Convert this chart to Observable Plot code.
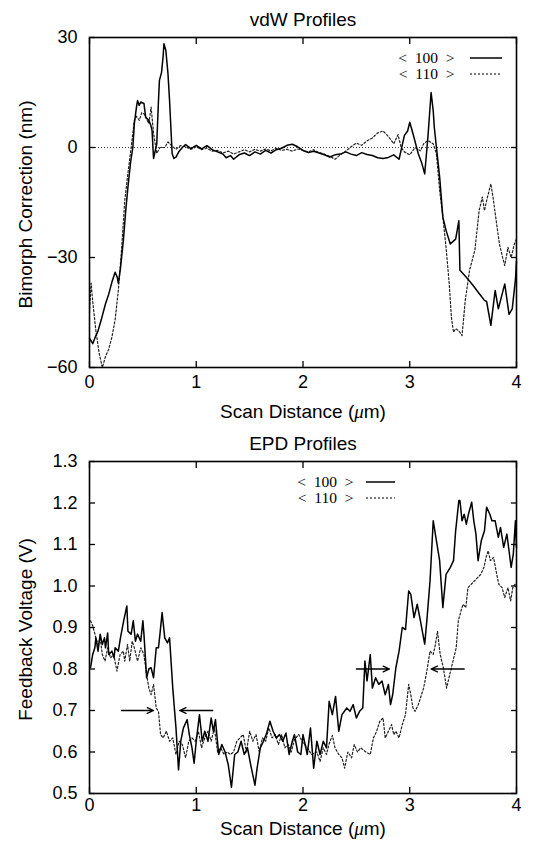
<!DOCTYPE html>
<html><head><meta charset="utf-8">
<script src="https://cdn.jsdelivr.net/npm/d3@7"></script>
<script src="https://cdn.jsdelivr.net/npm/@observablehq/plot@0.6"></script>
<style>
html,body{margin:0;padding:0;background:#fff;}
#c{width:546px;}
#c svg{display:block;}
</style></head><body><div id="c"></div>
<script>
// ---------- vdW Profiles (nm) ----------
const vdwX100 = [0.00,0.03,0.05,0.08,0.11,0.15,0.18,0.21,0.24,0.26,0.27,0.29,0.317,0.34,0.36,0.385,0.406,0.42,0.44,0.45,0.465,0.48,0.51,0.526,0.556,0.575,0.586,0.60,0.615,0.63,0.645,0.655,0.675,0.69,0.697,0.715,0.735,0.75,0.774,0.79,0.81,0.84,0.87,0.90,0.95,1.00,1.05,1.10,1.15,1.20,1.25,1.28,1.32,1.35,1.40,1.45,1.50,1.55,1.60,1.65,1.70,1.75,1.80,1.85,1.90,1.95,2.00,2.05,2.10,2.15,2.20,2.25,2.30,2.35,2.40,2.45,2.50,2.55,2.60,2.65,2.70,2.75,2.80,2.85,2.90,2.95,2.98,3.00,3.03,3.08,3.11,3.14,3.17,3.20,3.22,3.23,3.25,3.28,3.31,3.34,3.38,3.43,3.46,3.47,3.53,3.59,3.65,3.70,3.72,3.76,3.80,3.83,3.89,3.93,3.96,3.99,4.00];
const vdwY100 = [-52,-53.5,-52,-50,-47,-42.6,-40,-36.7,-34,-35.4,-37,-33,-25.4,-17,-10.8,-4,0,6.5,11,12.8,11.5,12.4,12,8.3,7.4,6,4.6,-3,-1,1,12,18.3,20.5,25,28.3,26.5,20.2,12.8,-1.6,-3,-2.6,-1,0,0.8,-0.3,0.6,-0.4,0.5,-0.6,-1.2,-1.8,-2.8,-2.2,-3.2,-2.0,-1.5,-2.2,-1.2,-1.8,-0.8,-1.5,-0.6,-0.2,0.6,0.9,0.2,-0.8,-1.4,-1.0,-1.5,-2.0,-2.6,-2.0,-1.8,-1.2,-1.8,-2.2,-1.4,-1.9,-2.2,-2.8,-3.0,-2.7,-2.0,-3.2,3.3,4.5,6.9,3.8,-1.7,-4,-7.2,2.8,15,10,5.5,0,-8,-19,-22.6,-26.3,-25,-20,-33.5,-35.4,-37.5,-39.8,-41.7,-42,-48.5,-39,-44,-37.2,-45.5,-44,-36,-31];
const vdwX110 = [0.00,0.015,0.03,0.06,0.09,0.12,0.15,0.18,0.21,0.24,0.27,0.30,0.33,0.36,0.39,0.42,0.44,0.466,0.49,0.51,0.53,0.556,0.577,0.60,0.63,0.66,0.705,0.735,0.77,0.81,0.85,0.90,0.95,1.00,1.05,1.10,1.15,1.20,1.25,1.30,1.35,1.40,1.45,1.50,1.55,1.60,1.65,1.70,1.75,1.80,1.85,1.90,1.95,2.00,2.05,2.10,2.15,2.20,2.25,2.30,2.35,2.40,2.45,2.50,2.55,2.60,2.65,2.70,2.75,2.80,2.85,2.89,2.92,2.95,3.00,3.05,3.10,3.13,3.17,3.22,3.25,3.28,3.31,3.34,3.37,3.39,3.41,3.43,3.46,3.49,3.52,3.56,3.61,3.65,3.68,3.70,3.72,3.76,3.78,3.81,3.84,3.87,3.89,3.92,3.95,3.98,4.00];
const vdwY110 = [-45,-37,-42,-50,-56,-60,-57,-55,-51.7,-47,-39,-28,-14.5,-7,0,7.4,8.5,7.4,9.5,9.2,8,6.5,11,3.8,-1.6,0,0,1.5,0.5,-0.5,0.5,0.2,-0.5,0.2,-0.6,-0.2,-1.0,-0.8,-1.5,-1.0,-1.8,-1.2,-0.6,-1.2,-0.5,-1.0,-0.4,-0.9,-0.2,-0.8,-0.5,-1.0,-0.4,-0.8,-1.2,-0.6,-1.4,-1.8,-2.4,-3.2,-2.0,-1.0,0.2,1.2,0.6,1.8,2.6,4.0,4.5,3.0,1.0,3.5,0,-1.2,-2.0,0,-0.9,1,1.9,1,-1.7,-11.7,-19,-27.2,-37.2,-46.3,-50.4,-49.4,-50,-51.3,-41.7,-33.5,-28,-17.2,-13.5,-17.2,-14.5,-9.9,-13.5,-20,-26.3,-30,-32.2,-27.2,-30,-26.3,-25];
const vdwTicksX = [0, 1, 2, 3, 4];
const vdwTicksY = [-60, -30, 0, 30];

// ---------- EPD Profiles (V) ----------
const epdX100 = [0.01,0.03,0.05,0.06,0.08,0.10,0.12,0.14,0.15,0.17,0.18,0.21,0.23,0.24,0.27,0.29,0.32,0.35,0.36,0.39,0.41,0.43,0.45,0.48,0.50,0.51,0.535,0.556,0.577,0.60,0.625,0.646,0.66,0.68,0.705,0.73,0.75,0.78,0.81,0.834,0.855,0.88,0.915,0.935,0.96,0.98,1.00,1.03,1.056,1.08,1.11,1.14,1.16,1.18,1.21,1.24,1.27,1.30,1.33,1.36,1.39,1.42,1.45,1.48,1.51,1.55,1.57,1.60,1.63,1.66,1.69,1.72,1.75,1.78,1.81,1.84,1.87,1.90,1.92,1.95,1.98,2.00,2.04,2.07,2.10,2.13,2.16,2.19,2.22,2.245,2.275,2.305,2.335,2.365,2.41,2.44,2.47,2.50,2.53,2.56,2.58,2.60,2.63,2.65,2.68,2.71,2.74,2.77,2.80,2.82,2.84,2.87,2.90,2.93,2.96,2.99,3.01,3.04,3.07,3.10,3.14,3.16,3.19,3.22,3.25,3.28,3.31,3.34,3.38,3.41,3.43,3.46,3.47,3.49,3.51,3.53,3.55,3.58,3.60,3.62,3.64,3.67,3.70,3.72,3.75,3.77,3.80,3.83,3.85,3.88,3.91,3.93,3.95,3.97,3.99,4.00];
const epdY100 = [0.803,0.835,0.851,0.875,0.843,0.884,0.859,0.875,0.851,0.887,0.835,0.843,0.827,0.851,0.843,0.875,0.916,0.952,0.891,0.884,0.916,0.867,0.884,0.867,0.916,0.884,0.779,0.80,0.803,0.779,0.851,0.851,0.884,0.936,0.875,0.863,0.875,0.754,0.658,0.557,0.626,0.658,0.678,0.642,0.61,0.573,0.626,0.69,0.626,0.65,0.626,0.682,0.65,0.678,0.594,0.618,0.60,0.569,0.515,0.594,0.60,0.626,0.594,0.61,0.569,0.52,0.561,0.61,0.626,0.646,0.674,0.65,0.634,0.642,0.626,0.646,0.594,0.626,0.642,0.60,0.594,0.642,0.594,0.658,0.561,0.626,0.594,0.626,0.61,0.722,0.69,0.734,0.65,0.69,0.706,0.698,0.714,0.682,0.698,0.706,0.819,0.771,0.835,0.754,0.779,0.763,0.771,0.738,0.763,0.714,0.738,0.803,0.843,0.90,0.895,0.988,0.98,0.924,0.956,0.916,0.86,0.916,1.012,1.157,1.109,1.061,0.948,1.028,1.045,1.061,1.133,1.206,1.206,1.157,1.173,1.149,1.173,1.202,1.157,1.125,1.061,1.109,1.133,1.19,1.173,1.157,1.157,1.117,1.141,1.093,1.125,1.085,1.045,1.077,1.157,1.093];
const epdX110 = [0.01,0.03,0.06,0.08,0.10,0.12,0.146,0.17,0.197,0.227,0.257,0.287,0.317,0.33,0.356,0.377,0.40,0.42,0.45,0.48,0.51,0.535,0.556,0.577,0.60,0.625,0.646,0.666,0.69,0.72,0.75,0.78,0.81,0.84,0.87,0.90,0.93,0.96,0.99,1.02,1.05,1.08,1.11,1.14,1.17,1.20,1.23,1.26,1.29,1.32,1.35,1.38,1.41,1.44,1.47,1.50,1.53,1.56,1.59,1.62,1.65,1.68,1.71,1.74,1.77,1.80,1.83,1.86,1.89,1.92,1.96,1.99,2.04,2.08,2.13,2.16,2.19,2.22,2.245,2.275,2.30,2.335,2.365,2.39,2.42,2.455,2.48,2.51,2.54,2.59,2.63,2.66,2.69,2.72,2.75,2.77,2.80,2.83,2.85,2.87,2.90,2.93,2.96,2.99,3.01,3.03,3.05,3.08,3.11,3.13,3.16,3.19,3.22,3.24,3.26,3.285,3.315,3.345,3.375,3.405,3.435,3.455,3.48,3.50,3.525,3.545,3.575,3.605,3.635,3.665,3.695,3.715,3.735,3.755,3.785,3.815,3.835,3.865,3.89,3.92,3.945,3.965,3.985,4.00];
const epdY110 = [0.916,0.904,0.875,0.859,0.875,0.835,0.819,0.851,0.827,0.835,0.795,0.835,0.843,0.819,0.859,0.819,0.867,0.851,0.819,0.851,0.835,0.787,0.754,0.738,0.763,0.706,0.698,0.642,0.634,0.65,0.626,0.634,0.594,0.626,0.618,0.586,0.626,0.634,0.626,0.65,0.61,0.634,0.65,0.626,0.658,0.60,0.61,0.594,0.60,0.594,0.60,0.626,0.634,0.642,0.60,0.65,0.626,0.642,0.60,0.634,0.626,0.658,0.634,0.642,0.618,0.642,0.61,0.618,0.60,0.63,0.642,0.626,0.61,0.594,0.60,0.577,0.61,0.594,0.62,0.64,0.61,0.594,0.586,0.561,0.60,0.586,0.618,0.60,0.61,0.60,0.594,0.634,0.65,0.674,0.682,0.634,0.65,0.666,0.642,0.65,0.634,0.666,0.69,0.763,0.738,0.706,0.698,0.714,0.738,0.754,0.795,0.843,0.835,0.859,0.891,0.835,0.803,0.754,0.787,0.819,0.851,0.916,0.94,0.956,0.948,0.996,1.004,1.012,1.02,1.028,1.045,1.069,1.085,1.061,1.069,1.028,1.004,0.996,0.972,0.996,0.964,0.996,1.004,0.996];
const epdTicksX = [0, 1, 2, 3, 4];
const epdTicksY = [0.5, 0.6, 0.7, 0.8, 0.9, 1.0, 1.1, 1.2, 1.3];
// annotation arrows (data coordinates)
const epdArrowX1 = [0.30, 1.155, 2.50, 3.51];
const epdArrowX2 = [0.60, 0.845, 2.81, 3.20];
const epdArrowY  = [0.70, 0.70, 0.80, 0.80];

const seriesNames = ["< 100 >", "< 110 >"];
const titles = ["vdW Profiles", "EPD Profiles"];
const yLabels = ["Bimorph Correction (nm)", "Feedback Voltage (V)"];
const xLabel = "Scan Distance (μm)";

const zip = (xs, ys) => xs.map((x, i) => ({x, y: ys[i]}));

const W = 546, ML = 89, MR = 30;
const SANS = "'Liberation Sans', Arial, Helvetica, sans-serif";
const SERIF = "'Liberation Serif', 'Times New Roman', serif";

function panel(cfg) {
  const legendText = (name, dy) => Plot.text([name.replace(/ /g, "\u2002")], {
    frameAnchor: "top-right", textAnchor: "end", lineAnchor: "middle",
    dx: cfg.legDx, dy, fontFamily: SERIF, fontSize: 15.5, fill: "#000"
  });
  const marks = [
    cfg.zeroRule ? Plot.ruleY([0], {stroke: "#222", strokeWidth: 0.9, strokeDasharray: "1,2"}) : null,
    Plot.line(cfg.s110, {x: "x", y: "y", stroke: "#222", strokeWidth: 1.2, strokeDasharray: "2,2"}),
    Plot.line(cfg.s100, {x: "x", y: "y", stroke: "#000", strokeWidth: 1.5}),
    cfg.arrows ? Plot.arrow(cfg.arrows, {x1: "x1", x2: "x2", y1: "y", y2: "y", stroke: "#000", strokeWidth: 1.3, headLength: 8, headAngle: 50}) : null,
    Plot.frame({stroke: "#000", strokeWidth: 1.6}),
    // tick labels
    Plot.axisX({anchor: "bottom", ticks: cfg.tx, tickSize: 0, tickPadding: cfg.xPad, tickFormat: d3.format("d"), label: null, fontSize: 18}),
    Plot.axisY({anchor: "left", ticks: cfg.ty, tickSize: 0, tickPadding: 12, tickFormat: cfg.yFmt, label: null, fontSize: 18}),
    // inward, mirrored ticks
    Plot.axisX({anchor: "bottom", ticks: cfg.tx, tickSize: -6, tickFormat: () => "", label: null, strokeWidth: 1.3}),
    Plot.axisX({anchor: "top", ticks: cfg.tx, tickSize: -6, tickFormat: () => "", label: null, strokeWidth: 1.3}),
    Plot.axisY({anchor: "left", ticks: cfg.ty, tickSize: -6, tickFormat: () => "", label: null, strokeWidth: 1.3}),
    Plot.axisY({anchor: "right", ticks: cfg.ty, tickSize: -6, tickFormat: () => "", label: null, strokeWidth: 1.3}),
    // title and axis labels
    Plot.text([cfg.title], {frameAnchor: "top", lineAnchor: "middle", textAnchor: "middle", dy: cfg.titleDy, fontSize: 19, fill: "#000"}),
    Plot.text([xLabel], {frameAnchor: "bottom", lineAnchor: "middle", textAnchor: "middle", dy: cfg.xLabelDy, fontSize: 19, fill: "#000"}),
    Plot.text([cfg.yLabel], {frameAnchor: "left", lineAnchor: "middle", textAnchor: "middle", rotate: -90, dx: -64, dy: 2, fontSize: 19, fill: "#000"}),
    // legend text
    legendText(seriesNames[0], cfg.legDy[0]),
    legendText(seriesNames[1], cfg.legDy[1])
  ].filter(Boolean);

  const svg = Plot.plot({
    width: W, height: cfg.height,
    marginLeft: ML, marginRight: MR, marginTop: cfg.mt, marginBottom: cfg.mb,
    x: {domain: [0, 4]},
    y: {domain: cfg.yDomain},
    style: {fontFamily: SANS, fontSize: "18px", color: "#000", background: "transparent", overflow: "visible"},
    marks
  });

  // legend line samples
  const g = d3.select(svg).append("g");
  const xr = W - MR;
  [[cfg.legDy[0], null, 1.5], [cfg.legDy[1], "2,2", 1.2]].forEach(([dy, dash, sw]) => {
    g.append("line")
      .attr("x1", xr + cfg.legLine[0]).attr("x2", xr + cfg.legLine[1])
      .attr("y1", cfg.mt + dy).attr("y2", cfg.mt + dy)
      .attr("stroke", "#000").attr("stroke-width", sw)
      .attr("stroke-dasharray", dash);
  });

  // italic Greek mu, as in the original label
  d3.select(svg).selectAll("text").each(function () {
    if (this.textContent === xLabel) {
      const el = d3.select(this);
      el.text(null);
      el.append("tspan").text("Scan Distance (");
      el.append("tspan").attr("font-style", "italic").attr("font-family", SERIF).text("μ");
      el.append("tspan").text("m)");
    }
  });
  return svg;
}

const c = document.getElementById("c");
c.appendChild(panel({
  s100: zip(vdwX100, vdwY100), s110: zip(vdwX110, vdwY110),
  yDomain: [-60, 30], tx: vdwTicksX, ty: vdwTicksY, yFmt: d3.format("d"),
  title: titles[0], yLabel: yLabels[0], zeroRule: true,
  height: 427, mt: 37, mb: 60, xPad: 8, titleDy: -18, xLabelDy: 44,
  legDx: -62, legDy: [21, 37], legLine: [-46, -14]
}));
c.appendChild(panel({
  s100: zip(epdX100, epdY100), s110: zip(epdX110, epdY110),
  arrows: epdArrowX1.map((x1, i) => ({x1, x2: epdArrowX2[i], y: epdArrowY[i]})),
  yDomain: [0.5, 1.3], tx: epdTicksX, ty: epdTicksY, yFmt: d3.format(".1f"),
  title: titles[1], yLabel: yLabels[1], zeroRule: false,
  height: 427, mt: 34, mb: 61, xPad: 5, titleDy: -18, xLabelDy: 35,
  legDx: -163, legDy: [21, 37], legLine: [-150, -121]
}));
</script></body></html>
